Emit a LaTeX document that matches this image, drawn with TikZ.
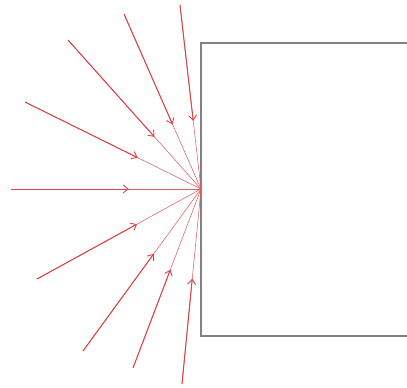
\documentclass[tikz,border=0pt]{standalone}
\usetikzlibrary{arrows.meta,calc}
\definecolor{rayred}{RGB}{220,66,70}
\definecolor{boxgray}{RGB}{130,130,130}
\tikzset{
  ray/.style={draw=rayred, line width=1pt, -{Straight Barb[length=5pt,width=8pt,line width=0.9pt]}},
  raythin/.style={draw=rayred!85, line width=0.55pt},
  wall/.style={draw=boxgray, line width=1.2pt}
}
\begin{document}
\begin{tikzpicture}[x=1pt,y=-1pt]
\useasboundingbox (0,0) rectangle (407,388);
\draw[wall] (420,43) -- (201,43) -- (201,336) -- (420,336);
\coordinate (f) at (201,189);
\foreach \n/\sx/\sy/\t in {a/11/189/0.62, b/25/102/0.64, c/68/40/0.65, d/124/14/0.63, e/180/5/0.63, g/37/279/0.61, h/83/351/0.6, i/133/368/0.55, j/182/384/0.54}{
  \coordinate (s\n) at (\sx,\sy);
  \draw[raythin] (s\n) -- (f);
  \draw[ray] (s\n) -- ($(s\n)!\t!(f)$);
}
\end{tikzpicture}
\end{document}
